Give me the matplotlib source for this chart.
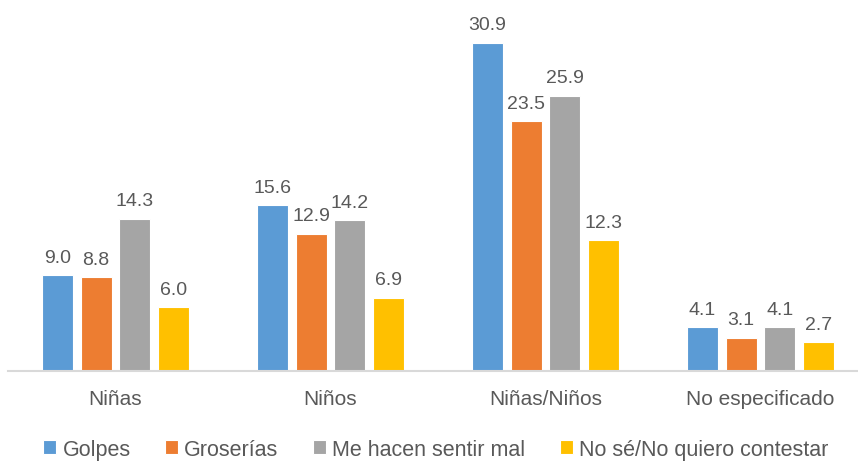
import matplotlib
matplotlib.use("Agg")
import matplotlib.pyplot as plt
import numpy as np

categories = ["Niñas", "Niños", "Niñas/Niños", "No especificado"]
series_names = ["Golpes", "Groserías", "Me hacen sentir mal", "No sé/No quiero contestar"]
golpes = [9.0, 15.6, 30.9, 4.1]
groserias = [8.8, 12.9, 23.5, 3.1]
sentir_mal = [14.3, 14.2, 25.9, 4.1]
no_se = [6.0, 6.9, 12.3, 2.7]
colors = ["#5B9BD5", "#ED7D31", "#A5A5A5", "#FFC000"]

plt.rcParams['font.family'] = ['Liberation Sans', 'DejaVu Sans']
fig = plt.figure(figsize=(8.58, 4.64), dpi=100)
ax = fig.add_axes([8 / 858, 92 / 464, 860 / 858, 372 / 464])

x = np.arange(len(categories))
step = 0.181
width = 0.144
data = [golpes, groserias, sentir_mal, no_se]
txt = "#595959"
for i, (vals, name, c) in enumerate(zip(data, series_names, colors)):
    pos = x + (i - 1.5) * step
    bars = ax.bar(pos, vals, width=width, color=c, edgecolor="white", linewidth=0.8, label=name, zorder=2)
    for b, v in zip(bars, vals):
        ax.text(b.get_x() + b.get_width() / 2, v + 0.9, f"{v:.1f}", ha="center", va="bottom",
                fontsize=14, color=txt)

ax.set_xlim(-0.5, 3.5)
ax.set_ylim(0, 35)
ax.set_yticks([])
ax.set_xticks(x)
ax.set_xticklabels(categories, fontsize=15, color=txt)
ax.tick_params(axis="x", length=0, pad=13)
for s in ["top", "right", "left"]:
    ax.spines[s].set_visible(False)
ax.spines["bottom"].set_color("#D9D9D9")
ax.spines["bottom"].set_linewidth(1.5)

leg = fig.legend(loc="lower center", bbox_to_anchor=(0.508, -0.035), ncol=4, frameon=False,
                 fontsize=15.5, handlelength=0.6, handleheight=0.6, handletextpad=0.3, columnspacing=1.6)
for t in leg.get_texts():
    t.set_color(txt)

fig.savefig("out.png", dpi=100)
